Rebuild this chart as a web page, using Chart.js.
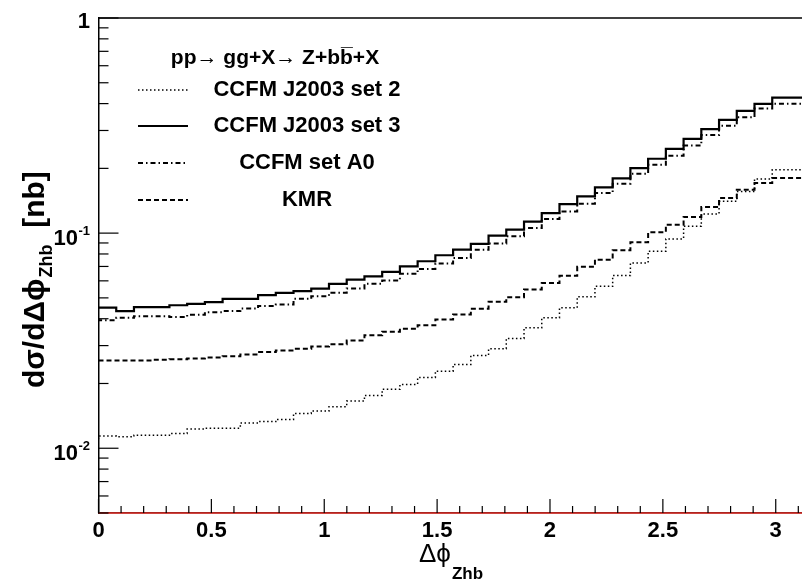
<!DOCTYPE html>
<html><head><meta charset="utf-8">
<script src="https://cdn.jsdelivr.net/npm/chart.js@4.4.0/dist/chart.umd.min.js"></script>
<style>
html,body{margin:0;padding:0;background:#fff;overflow:hidden;}
#wrap{width:810px;height:586px;position:relative;}
</style></head><body>
<div id="wrap"><canvas id="c"></canvas></div>
<script>
// ---- data ----
const xMin = 0, xMax = Math.PI;
const yMin = 0.005, yMax = 1;
const seriesNames = ["CCFM J2003 set 2", "CCFM J2003 set 3", "CCFM set A0", "KMR"];
const set2Values = [0.0110,0.0114,0.0113,0.0115,0.0115,0.0117,0.0123,0.0124,0.0124,0.0131,
  0.0133,0.0136,0.0145,0.0149,0.0156,0.0166,0.0176,0.0188,0.0198,0.0213,
  0.0228,0.0245,0.0270,0.0290,0.0324,0.0363,0.0404,0.0450,0.0506,0.0566,
  0.0635,0.0727,0.0823,0.0940,0.1075,0.1228,0.1405,0.1563,0.1784,0.1971];
const set3Values = [0.0450,0.0450,0.0434,0.0453,0.0453,0.0462,0.0469,0.0478,0.0495,0.0495,
  0.0515,0.0528,0.0537,0.0552,0.0581,0.0608,0.0630,0.0661,0.0701,0.0740,
  0.0789,0.0838,0.0891,0.0974,0.1038,0.1131,0.1238,0.1363,0.1482,0.1632,
  0.1796,0.2007,0.2217,0.2466,0.2745,0.3044,0.3362,0.3702,0.3990,0.4268];
const setA0Values = [0.0400,0.0394,0.0404,0.0411,0.0411,0.0407,0.0417,0.0429,0.0434,0.0446,
  0.0458,0.0466,0.0495,0.0509,0.0528,0.0553,0.0581,0.0602,0.0647,0.0682,
  0.0722,0.0767,0.0838,0.0894,0.0967,0.1057,0.1164,0.1262,0.1370,0.1537,
  0.1697,0.1888,0.2079,0.2289,0.2556,0.2855,0.3152,0.3461,0.3795,0.3990];
const kmrValues = [0.0256,0.0256,0.0256,0.0256,0.0258,0.0259,0.0261,0.0264,0.0268,0.0273,
  0.0280,0.0285,0.0290,0.0297,0.0304,0.0317,0.0335,0.0348,0.0359,0.0373,
  0.0397,0.0419,0.0445,0.0480,0.0504,0.0547,0.0587,0.0633,0.0697,0.0753,
  0.0832,0.0906,0.1009,0.1095,0.1189,0.1323,0.1456,0.1592,0.1709,0.1804];
const baselineValues = [yMin, yMin];
const xTickStep = 0.5;
const xMinorStep = 0.1;
const yMajorTicks = [1, 0.1, 0.01];
const yTickBase = ["1", "10", "10"];
const yTickSup = ["", "-1", "-2"];
const legendHeader = "pp\u2192 gg+X\u2192 Z+bb\u0305+X";

// ---- build histogram step tables ----
function histPoints(vals) {
  const w = (xMax - xMin) / vals.length;
  const pts = vals.map((v, i) => ({x: xMin + i * w, y: v}));
  pts.push({x: xMax, y: vals[vals.length - 1]});
  return pts;
}
const FONT = "'Liberation Sans', Arial, Helvetica, sans-serif";

const styles = [
  {borderDash: [1.5, 2.5], borderWidth: 1.5},
  {borderDash: [], borderWidth: 2.2},
  {borderDash: [5, 3, 1.5, 3], borderWidth: 2},
  {borderDash: [5, 3], borderWidth: 2}
];
const seriesValues = [set2Values, set3Values, setA0Values, kmrValues];

const datasets = seriesValues.map((vals, i) => ({
  label: seriesNames[i],
  data: histPoints(vals),
  stepped: 'after',
  borderColor: '#000',
  backgroundColor: '#000',
  borderWidth: styles[i].borderWidth,
  borderDash: styles[i].borderDash,
  borderCapStyle: 'butt',
  pointRadius: 0,
  fill: false,
  tension: 0
}));
datasets.push({
  label: 'baseline',
  data: [{x: xMin, y: baselineValues[0]}, {x: xMax, y: baselineValues[1]}],
  borderColor: '#e8302a',
  borderWidth: 1.5,
  pointRadius: 0,
  clip: false
});

const rootStyle = {
  id: 'rootStyle',
  afterDraw(chart) {
    const {ctx, chartArea: a, scales: {x, y}} = chart;
    const line = (x1, y1, x2, y2) => { ctx.beginPath(); ctx.moveTo(x1, y1); ctx.lineTo(x2, y2); ctx.stroke(); };
    ctx.save();
    ctx.strokeStyle = '#000';
    ctx.lineWidth = 1.5;
    ctx.setLineDash([]);
    // top frame
    line(a.left, a.top, a.right, a.top);
    // y ticks (inward)
    ctx.lineWidth = 1.2;
    for (let d = -3; d <= 0; d++) {
      for (let m = 1; m <= 9; m++) {
        const v = m * Math.pow(10, d);
        if (v < yMin * 0.999 || v > yMax * 1.001) continue;
        const py = y.getPixelForValue(v);
        line(a.left, py, a.left + (m === 1 ? 20 : 10), py);
      }
    }
    // x ticks (inward)
    for (let k = 0; k * xMinorStep <= xMax + 1e-9; k++) {
      const v = k * xMinorStep;
      const px = x.getPixelForValue(v);
      line(px, a.bottom, px, a.bottom - (k % 5 === 0 ? 14 : 7));
    }
    // y tick labels with superscripts
    ctx.fillStyle = '#000';
    ctx.textBaseline = 'alphabetic';
    yMajorTicks.forEach((v, i) => {
      const py = y.getPixelForValue(v);
      const right = 90;
      ctx.font = 'bold 13px ' + FONT;
      const sw = yTickSup[i] ? ctx.measureText(yTickSup[i]).width : 0;
      if (yTickSup[i]) {
        ctx.textAlign = 'left';
        ctx.fillText(yTickSup[i], right - sw, py + 2);
      }
      ctx.font = 'bold 22px ' + FONT;
      ctx.textAlign = 'right';
      ctx.fillText(yTickBase[i], right - sw - (sw ? 0.5 : 0), py + (i === 0 ? 10 : 12));
    });
    // x axis title
    ctx.textAlign = 'left';
    ctx.font = '26px ' + FONT;
    ctx.fillText('\u0394\u03d5', 419, 562);
    const dw = ctx.measureText('\u0394\u03d5').width;
    ctx.font = 'bold 17px ' + FONT;
    ctx.fillText('Zhb', 419 + dw + 1, 579);
    // y axis title (rotated)
    ctx.save();
    ctx.translate(44, 388);
    ctx.rotate(-Math.PI / 2);
    ctx.font = 'bold 30px ' + FONT;
    ctx.textAlign = 'left';
    const t1 = 'd\u03c3/d\u0394\u03d5';
    ctx.fillText(t1, 0, 0);
    let w1 = ctx.measureText(t1).width;
    ctx.font = 'bold 18px ' + FONT;
    ctx.fillText('Zhb', w1 + 1, 8);
    w1 += ctx.measureText('Zhb').width + 1;
    ctx.font = 'bold 30px ' + FONT;
    ctx.fillText('  [nb]', w1, 0);
    ctx.restore();
    // legend
    ctx.font = 'bold 21px ' + FONT;
    ctx.textAlign = 'center';
    ctx.textBaseline = 'middle';
    ctx.fillText(legendHeader, 275, 58);
    const rows = [90, 126, 163, 200];
    ctx.font = 'bold 22px ' + FONT;
    seriesNames.forEach((name, i) => {
      ctx.lineWidth = styles[i].borderWidth;
      ctx.setLineDash(styles[i].borderDash);
      ctx.lineCap = 'butt';
      line(138, rows[i], 188, rows[i]);
      ctx.setLineDash([]);
      ctx.fillText(name, 307, rows[i]);
    });
    ctx.restore();
  }
};

new Chart(document.getElementById('c'), {
  type: 'line',
  data: {datasets},
  options: {
    responsive: true,
    maintainAspectRatio: false,
    animation: false,
    devicePixelRatio: 1,
    layout: {padding: {top: 18, right: 2.3, left: 0, bottom: 0}},
    plugins: {legend: {display: false}, tooltip: {enabled: false}, title: {display: false}},
    scales: {
      x: {
        type: 'linear', min: xMin, max: xMax,
        grid: {display: false, drawTicks: false},
        border: {display: true, color: '#000', width: 1.5},
        ticks: {
          stepSize: xTickStep, includeBounds: false, autoSkip: false, maxRotation: 0,
          color: '#000', padding: 5,
          font: {family: FONT, size: 22, weight: 'bold'},
          callback: v => String(Math.round(v * 10) / 10)
        },
        afterFit: s => { s.height = 73; }
      },
      y: {
        type: 'logarithmic', min: yMin, max: yMax,
        grid: {display: false, drawTicks: false},
        border: {display: true, color: '#000', width: 1.5},
        ticks: {display: false},
        afterFit: s => { s.width = 98.5; }
      }
    }
  },
  plugins: [rootStyle]
});
</script>
</body></html>
